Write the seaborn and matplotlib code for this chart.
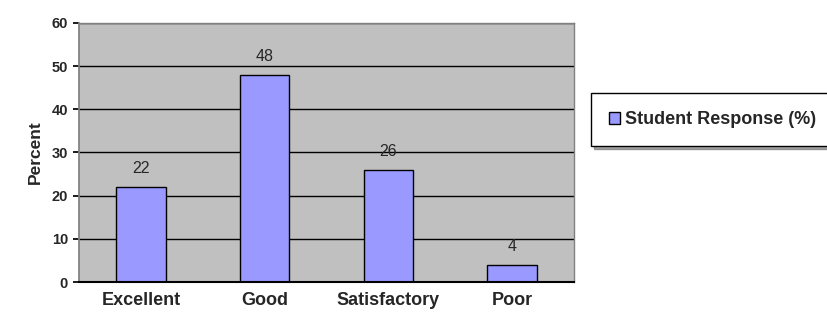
import matplotlib
matplotlib.use("Agg")
import matplotlib.pyplot as plt
import seaborn as sns
import pandas as pd

categories = ["Excellent", "Good", "Satisfactory", "Poor"]
responses = [22, 48, 26, 4]
y_ticks = [0, 10, 20, 30, 40, 50, 60]

df = pd.DataFrame({"Rating": categories, "Student Response (%)": responses})

sns.set_theme(style="white")
plt.rcParams["font.family"] = ["Liberation Sans", "DejaVu Sans"]

fig = plt.figure(figsize=(8.28, 3.18), dpi=100)
ax = fig.add_axes([0.0954, 0.113, 0.598, 0.815])
ax.set_facecolor("#c0c0c0")

sns.barplot(data=df, x="Rating", y="Student Response (%)", color="#9999ff",
            edgecolor="black", linewidth=1, width=0.4, saturation=1,
            label="Student Response (%)", ax=ax)

ax.set_ylim(0, 60)
ax.set_xlim(-0.5, 3.5)
ax.set_yticks(y_ticks)
ax.set_yticklabels([str(t) for t in y_ticks], fontweight="bold", fontsize=10.5)
ax.set_xticks([-0.5, 0.5, 1.5, 2.5, 3.5], minor=False)
ax.set_xticklabels([])
ax.set_xticks(range(len(categories)), minor=True)
ax.set_xticklabels(categories, minor=True, fontweight="bold", fontsize=13)
ax.tick_params(axis="x", which="minor", length=0, pad=7)
ax.tick_params(axis="x", which="major", length=4, color="#808080", direction="out")
ax.tick_params(axis="y", length=4, color="black", direction="out", left=True, pad=4)
ax.yaxis.grid(True, color="black", linewidth=1)
ax.set_axisbelow(True)
ax.set_xlabel("")
ax.set_ylabel("Percent", fontweight="bold", fontsize=12.5, labelpad=6)

for side in ["top", "right"]:
    ax.spines[side].set_color("#808080")
    ax.spines[side].set_linewidth(1)
ax.spines["left"].set_color("#808080")
ax.spines["bottom"].set_color("black")
ax.spines["bottom"].set_linewidth(1.5)

for cont in ax.containers:
    ax.bar_label(cont, padding=8, fontsize=11.5)

ax.legend(loc="center left", bbox_to_anchor=(0.703, 0.623), bbox_transform=fig.transFigure,
          frameon=True, fancybox=False, shadow=True, edgecolor="black",
          prop={"weight": "bold", "size": 13}, handlelength=0.6, handleheight=0.6,
          handletextpad=0.3, borderpad=1.0)

fig.savefig("out.png", dpi=100, facecolor="white")
